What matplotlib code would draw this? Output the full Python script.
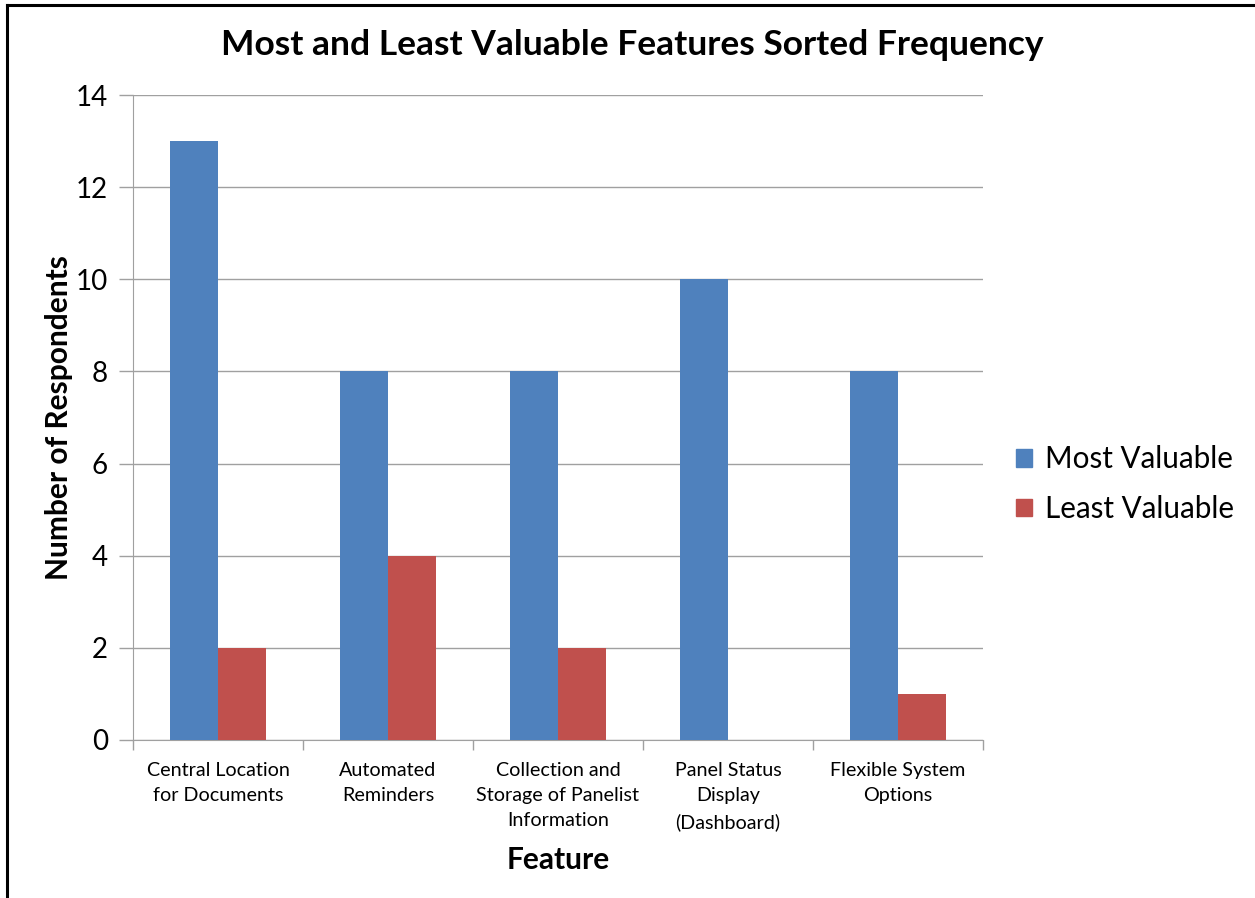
import matplotlib.pyplot as plt
import numpy as np
from matplotlib.lines import Line2D
from matplotlib.patches import Patch

plt.rcParams['font.family'] = ['Lato', 'DejaVu Sans']

features = ["Central Location\nfor Documents", "Automated\nReminders",
            "Collection and\nStorage of Panelist\nInformation",
            "Panel Status\nDisplay\n(Dashboard)", "Flexible System\nOptions"]
most_valuable = [13, 8, 8, 10, 8]
least_valuable = [2, 4, 2, 0, 1]
yticks = [0, 2, 4, 6, 8, 10, 12, 14]

blue = "#4F81BD"
red = "#C0504D"
grey = "#A0A0A0"

fig = plt.figure(figsize=(12.55, 8.98), dpi=100)
ax = fig.add_axes([133 / 1255, 1 - 740 / 898, 850 / 1255, 645 / 898])

x = np.arange(len(features))
w = 0.282
ax.bar(x - w / 2, most_valuable, w, color=blue, label="Most Valuable", zorder=3)
ax.bar(x + w / 2, least_valuable, w, color=red, label="Least Valuable", zorder=3)

ax.set_xlim(-0.5, len(features) - 0.5)
ax.set_ylim(0, 14)
ax.set_yticks(yticks)
ax.set_yticklabels([str(v) for v in yticks], fontsize=20)
ax.yaxis.grid(True, color=grey, linewidth=1, zorder=0)

ax.set_xticks(x)
ax.set_xticklabels(features, fontsize=14.2, linespacing=1.58)
ax.set_xticks(np.arange(-0.5, len(features)), minor=True)
ax.tick_params(axis='x', which='major', length=0, pad=16)
ax.tick_params(axis='x', which='minor', length=7, color=grey, width=1)
ax.tick_params(axis='y', length=10, color=grey, width=1, pad=8)

for s in ['top', 'right']:
    ax.spines[s].set_visible(False)
ax.spines['left'].set_color(grey)
ax.spines['bottom'].set_color(grey)

ax.set_xlabel("Feature", fontsize=21.5, fontweight='bold', labelpad=11)
ax.set_ylabel("Number of Respondents", fontsize=21.5, fontweight='bold', labelpad=2)
fig.text(632 / 1255, 1 - 45 / 898, "Most and Least Valuable Features Sorted Frequency",
         fontsize=25.5, fontweight='bold', ha='center', va='center')

handles = [Patch(color=blue), Patch(color=red)]
fig.legend(handles, ["Most Valuable", "Least Valuable"], loc='center left',
           bbox_to_anchor=(989 / 1255, 1 - 484 / 898), frameon=False, fontsize=21.3,
           handlelength=0.55, handleheight=0.55, handletextpad=0.45, labelspacing=0.74)

# figure frame: left and top edges
fig.add_artist(Line2D([6.5 / 1255, 6.5 / 1255], [0, 1 - 5 / 898], color='black', linewidth=2.2,
                      transform=fig.transFigure))
fig.add_artist(Line2D([6.5 / 1255, 1], [1 - 5 / 898, 1 - 5 / 898], color='black', linewidth=2.2,
                      transform=fig.transFigure))

fig.savefig("out.png", dpi=100)
